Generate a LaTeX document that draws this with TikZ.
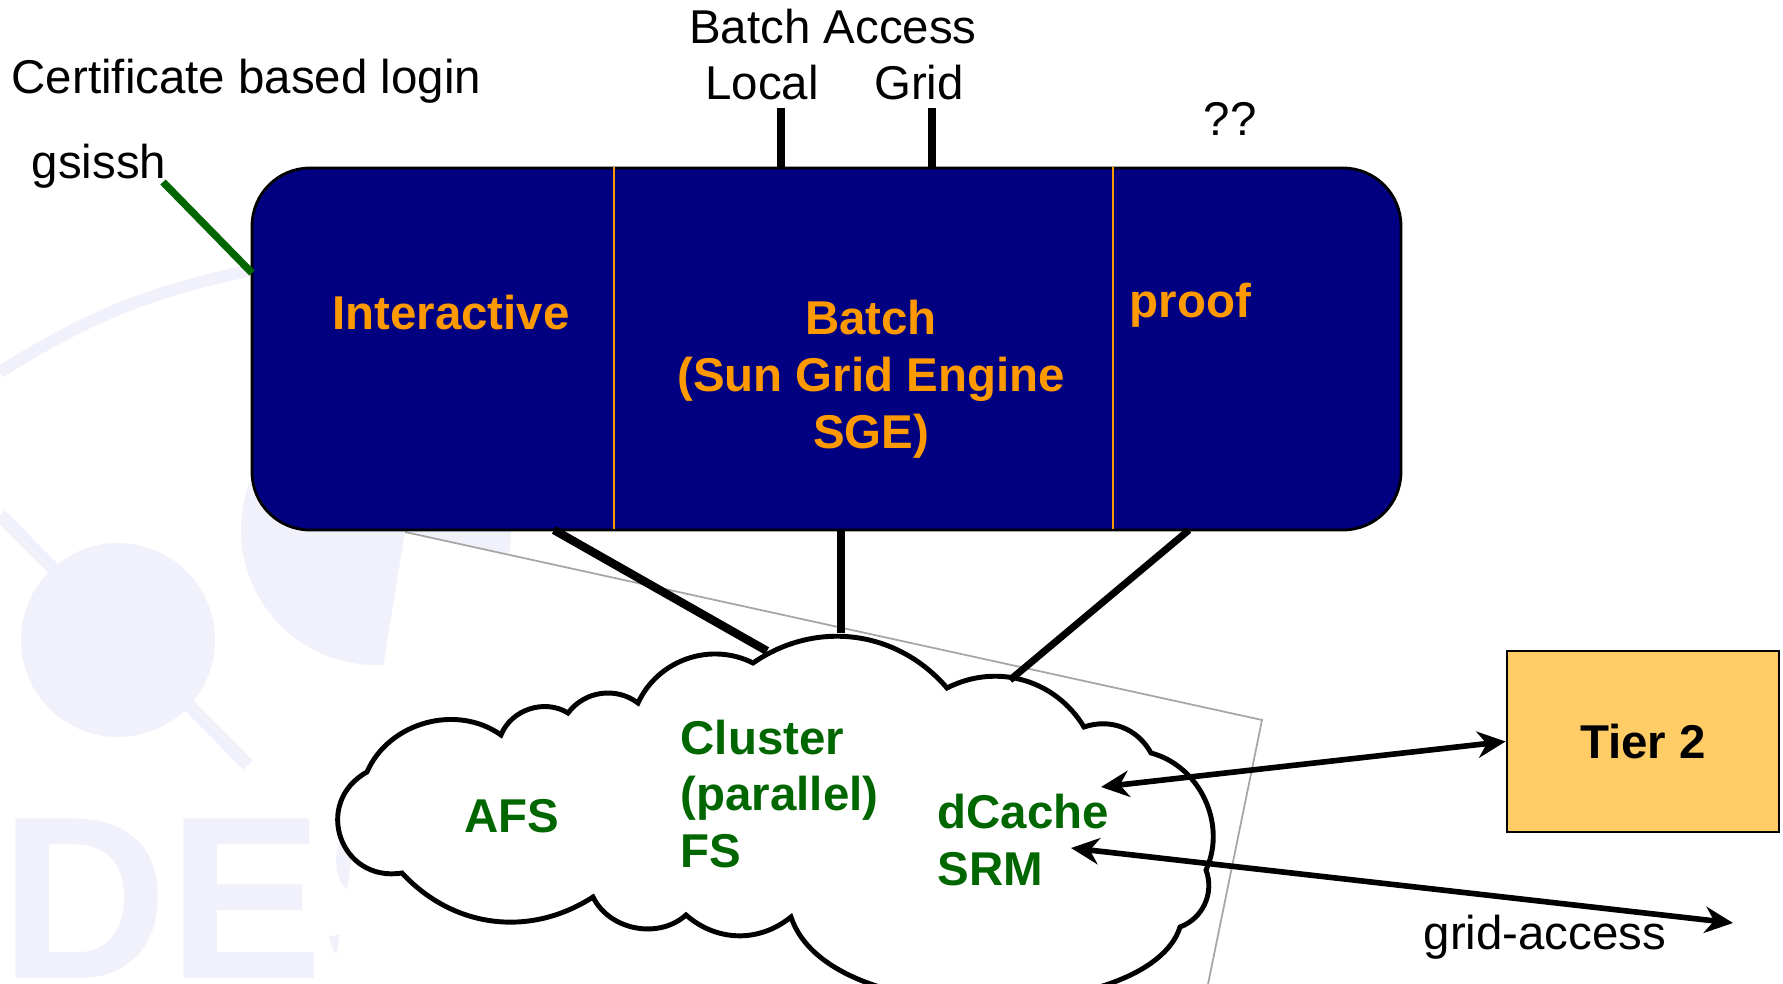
\documentclass[tikz,border=0pt]{standalone}
\usepackage{fontspec}
\setmainfont{Liberation Sans}
\usepackage{xcolor}
\usetikzlibrary{arrows.meta}
\usetikzlibrary{positioning}

\definecolor{navybox}{RGB}{0,0,128}
\definecolor{orangetxt}{RGB}{255,153,0}
\definecolor{greentxt}{RGB}{0,102,0}
\definecolor{tierfill}{RGB}{255,204,102}
\definecolor{wmark}{RGB}{241,241,251}

\begin{document}
\begin{tikzpicture}
\tikzset{plaintext/.style={inner sep=0pt,font=\fontsize{13.5}{16.2}\selectfont},
parttext/.style={inner sep=0pt,align=center,text=orangetxt,font=\fontsize{13.5}{16.2}\selectfont\bfseries},
fstext/.style={inner sep=0pt,align=left,text=greentxt,font=\fontsize{13.5}{16.2}\selectfont\bfseries},
accessline/.style={line width=2.2pt},
fsline/.style={line width=2pt},
dblarrow/.style={line width=1.6pt,{Stealth[length=8pt,width=7.5pt]}-{Stealth[length=8pt,width=7.5pt]}}}
\useasboundingbox (0,0) rectangle (17.83,9.84);
\clip (0,0) rectangle (17.83,9.84);
\fill[white] (0,0) rectangle (17.83,9.84);
\fill[wmark] (1.18,3.44) circle (0.97);
\fill[wmark] (3.76,4.54) circle (1.35);
\draw[wmark,line width=0.13cm] (0,4.69) -- (2.48,2.19);
\draw[wmark,line width=0.12cm] (0,6.12) to[bend left=10] (2.52,7.14);
\node[anchor=base west,inner sep=0pt,text=wmark,font=\fontsize{66}{66}\selectfont\bfseries] (wmarktext) at (0,0.05) {DES};
\fill[white] (4.05,4.52) -- (12.62,2.64) -- (12.06,-0.1) -- (3.30,-0.1) -- cycle;
\draw[gray!70,line width=0.5pt] (4.05,4.52) -- (12.62,2.64) -- (12.06,-0.1);
\node[draw=black,line width=0.8pt,fill=navybox,rounded corners=0.58cm,minimum width=11.49cm,minimum height=3.62cm,inner sep=0pt](farm) at (8.265,6.35){};
\draw[orangetxt,line width=0.6pt] (farm.north west) ++(3.63,0) -- ++(0,-3.62);
\draw[orangetxt,line width=0.6pt] (farm.north west) ++(8.62,0) -- ++(0,-3.62);
\node[parttext](interactive) at (4.51,6.71){Interactive};
\node[parttext](batch) at (8.71,6.05){Batch\\(Sun Grid Engine\\SGE)};
\node[parttext,anchor=west](proof) at (11.29,6.79){proof};
\node[plaintext](batchaccess) at (8.33,9.57){Batch Access};
\node[plaintext](local) at (7.62,9.01){Local};
\node[plaintext](grid) at (9.19,9.01){Grid};
\node[plaintext](unknown) at (12.30,8.65){??};
\node[plaintext,anchor=west](certlogin) at (0.11,9.03){Certificate based login};
\node[plaintext,anchor=west](gsissh) at (0.31,8.18){gsissh};
\coordinate (localtap) at (7.81,8.16);
\coordinate (gridtap) at (9.32,8.16);
\draw[accessline](localtap) -- ++(0,0.6);
\draw[accessline](gridtap) -- ++(0,0.6);
\coordinate (sshout) at (1.63,8.02);
\coordinate (sshin) at (2.52,7.11);
\draw[greentxt,line width=2.1pt](sshout) -- (sshin);
\coordinate (farmout1) at (5.54,4.54);
\coordinate (farmout2) at (8.41,4.54);
\coordinate (farmout3) at (11.89,4.54);
\coordinate (cloudin1) at (7.67,3.33);
\coordinate (cloudin2) at (8.41,3.51);
\coordinate (cloudin3) at (10.10,3.04);
\draw[line width=1.4pt,fill=white] (3.67,2.12) to[bend left=51] (5.01,2.49) to[bend left=50] (5.68,2.71)
 to[bend left=45] (6.38,2.81) to[bend left=46] (7.53,3.21) to[bend left=42] (9.47,2.96)
 to[bend left=43] (10.84,2.57) to[bend left=40] (11.51,2.31) to[bend left=50] (12.06,1.14)
 to[bend left=45] (11.80,0.57) .. controls (11.5,-0.4) and (8.3,-0.5) .. (7.91,0.67)
 to[bend left=40] (6.86,0.69) to[bend left=53] (5.93,0.87) to[bend left=40] (4.02,1.11)
 to[bend left=80,looseness=1.5] (3.67,2.12) -- cycle;
\draw[fsline,line width=2.4pt](farmout1) -- (cloudin1);
\draw[fsline](farmout2) -- (cloudin2);
\draw[fsline](farmout3) -- (cloudin3);
\node[fstext](afs) at (5.12,1.68){AFS};
\node[fstext,anchor=west](clusterfs) at (6.80,1.90){Cluster\\(parallel)\\FS};
\node[fstext,anchor=west](dcache) at (9.37,1.44){dCache\\SRM};
\node[draw=black,line width=0.8pt,fill=tierfill,minimum width=2.72cm,minimum height=1.81cm,font=\fontsize{13.5}{16.2}\selectfont\bfseries](tier2) at (16.43,2.425){Tier 2};
\coordinate (dcachein) at (11.01,1.97);
\coordinate (srmin) at (10.71,1.36);
\coordinate (gridout) at (17.33,0.61);
\draw[dblarrow](dcachein) -- (tier2.west);
\draw[dblarrow](srmin) -- (gridout);
\node[plaintext](gridaccess) at (15.45,0.47){grid-access};
\end{tikzpicture}
\end{document}
